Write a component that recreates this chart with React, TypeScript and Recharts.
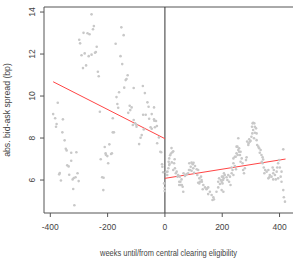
import {
  ScatterChart,
  Scatter,
  XAxis,
  YAxis,
  ReferenceLine,
} from 'recharts'

// weekly spreads before central clearing eligibility (weeks, bp)
const beforeClearing: [number, number][] = [
  [-390, 9.14], [-383, 8.94], [-380, 8.54], [-378, 8.67], [-374, 9.68], [-369, 6.27],
  [-367, 6.33], [-363, 5.98], [-358, 8.27], [-356, 8.89], [-350, 7.89], [-346, 7.49],
  [-343, 7.41], [-341, 6.7], [-336, 6.65], [-334, 6.25], [-327, 7.3], [-327, 6.92],
  [-322, 6.03], [-320, 5.57], [-318, 6.1], [-316, 4.8], [-312, 6.13], [-309, 7.32],
  [-305, 6.32], [-301, 5.95], [-299, 12.68], [-296, 12.51], [-291, 11.94], [-286, 11.33],
  [-284, 13.01], [-280, 12.03], [-275, 11.46], [-270, 12.99], [-266, 11.9], [-263, 12.94],
  [-256, 13.89], [-256, 11.97], [-251, 13.18], [-248, 13.33], [-244, 12.06], [-241, 12.1],
  [-238, 12.35], [-234, 11.16], [-231, 10.94], [-227, 9.25], [-224, 6.99], [-219, 6.13],
  [-215, 5.52], [-214, 6.11], [-210, 7.57], [-207, 7.27], [-206, 7.2], [-201, 7.14],
  [-198, 6.8], [-194, 7.7], [-188, 7.24], [-185, 7.27], [-182, 8.94], [-182, 8.27],
  [-178, 8.27], [-172, 12.49], [-169, 9.95], [-166, 9.62], [-163, 9.44], [-160, 10.18],
  [-155, 11.9], [-152, 13.27], [-149, 11.52], [-144, 12.9], [-142, 10.4], [-137, 10.76],
  [-134, 10.81], [-130, 10.99], [-128, 9.2], [-123, 9.54], [-121, 9.33], [-116, 9.46],
  [-112, 8.62], [-109, 10.38], [-109, 8.86], [-104, 8.7], [-100, 8.63], [-99, 8.54],
  [-90, 7.71], [-85, 8.01], [-81, 8.14], [-77, 10.48], [-76, 9.11], [-74, 8.41],
  [-70, 10.14], [-67, 9.11], [-61, 9.7], [-57, 9.49], [-55, 8.92], [-50, 8.51],
  [-46, 9.14], [-46, 8.44], [-38, 9.46], [-38, 8.89], [-37, 8.82], [-35, 8.51],
  [-31, 8.81], [-28, 8.57], [-27, 7.75], [-21, 8.03], [-16, 7.35], [-13, 7.32],
  [-10, 6.75], [-9, 6.63], [-6, 6.37], [-3, 5.84], [-1, 5.62], [-1, 5.48],
]

// weekly spreads after eligibility
const afterClearing: [number, number][] = [
  [5, 6.38], [8, 6.24], [9, 6.4], [12, 6.56], [13, 6.87], [15, 7.03], [15, 6.71],
  [16, 6.76], [18, 7.18], [21, 7.26], [23, 7.52], [24, 6.84], [26, 7.32], [29, 7.37],
  [29, 6.48], [32, 6.8], [34, 6.99], [35, 6.56], [38, 6.32], [41, 6.4], [44, 6.16],
  [46, 6.24], [50, 5.76], [50, 5.92], [52, 6.16], [54, 5.92], [55, 5.76], [58, 6.03],
  [59, 5.76], [62, 5.68], [64, 5.44], [65, 6.32], [70, 6.19], [72, 6.24], [76, 6.29],
  [81, 6.32], [84, 6.48], [85, 6.8], [87, 6.48], [90, 6.63], [93, 6.83], [93, 6.44],
  [97, 6.75], [99, 6.56], [100, 6.82], [102, 6.35], [105, 6.67], [111, 6.51], [113, 6.24],
  [116, 5.87], [116, 6.48], [120, 6.08], [120, 5.84], [122, 5.92], [126, 6.16], [128, 6.0],
  [129, 5.92], [132, 5.56], [134, 5.76], [140, 5.65], [145, 5.56], [147, 5.6], [151, 5.65],
  [151, 5.33], [157, 5.44], [163, 5.29], [166, 5.05], [169, 5.18], [171, 5.08], [180, 5.44],
  [186, 5.65], [186, 5.92], [189, 6.08], [192, 5.81], [195, 6.0], [198, 5.92], [198, 5.52],
  [199, 6.16], [201, 5.84], [203, 6.0], [203, 6.16], [205, 6.08], [204, 5.44], [206, 6.32],
  [209, 6.24], [215, 6.13], [218, 6.0], [221, 6.24], [224, 5.92], [227, 6.16], [229, 5.76],
  [233, 6.32], [233, 6.6], [236, 6.48], [239, 6.24], [239, 6.8], [239, 7.03], [244, 6.67],
  [244, 7.11], [247, 7.11], [248, 6.51], [250, 7.27], [250, 7.59], [253, 7.59], [254, 7.19],
  [256, 7.43], [256, 7.99], [259, 7.35], [259, 7.51], [262, 7.19], [264, 6.87], [264, 7.35],
  [268, 7.03], [271, 6.8], [273, 6.48], [276, 6.32], [279, 6.56], [283, 6.95], [285, 7.08],
  [287, 7.83], [291, 7.67], [292, 7.75], [294, 7.94], [297, 7.83], [299, 7.87], [302, 8.06],
  [304, 8.54], [305, 8.22], [306, 8.7], [308, 8.38], [308, 8.73], [311, 7.99], [312, 8.7],
  [314, 8.25], [314, 8.54], [318, 8.46], [320, 8.22], [320, 7.9], [322, 7.67], [326, 7.59],
  [329, 7.51], [331, 7.3], [334, 7.43], [337, 7.19], [338, 6.87], [341, 7.08], [341, 6.8],
  [343, 6.98], [345, 6.6], [347, 6.32], [350, 6.48], [355, 6.4], [361, 6.48], [361, 6.08],
  [364, 6.13], [366, 6.24], [372, 6.16], [376, 6.6], [378, 6.32], [378, 6.03], [380, 6.48],
  [384, 6.24], [387, 6.03], [390, 6.4], [392, 6.6], [395, 6.8], [395, 6.08], [399, 6.95],
  [401, 6.6], [404, 6.16], [407, 6.4], [407, 5.92], [413, 7.46], [413, 5.52], [415, 5.18],
  [419, 4.97],
]

// fitted lines (start, end)
const fitBefore: [number, number][] = [[-390, 10.68], [0, 7.97]]
const fitAfter: [number, number][] = [[0, 6.08], [421, 7.0]]

const xTicks = [-400, -200, 0, 200, 400]
const yTicks = [6, 8, 10, 12, 14]
const xDomain = [-422, 447]
const yDomain = [4.43, 14.24]

const font = '"Liberation Sans", Arial, sans-serif'
const axisColor = '#555'
const textColor = '#444'

const points = [...beforeClearing, ...afterClearing].map(([x, y]) => ({ x, y }))
const toSegment = (s: [number, number][]) => s.map(([x, y]) => ({ x, y }))

const Dot = (props: any) => (
  <circle cx={props.cx} cy={props.cy} r={1.3} fill="#c8c8c8" />
)

const XTick = ({ x, y, payload }: any) => (
  <text x={x} y={y + 11} textAnchor="middle" fontSize={8.5} fill={textColor} fontFamily={font}>
    {payload.value}
  </text>
)

const YTick = ({ x, y, payload }: any) => (
  <text
    x={x - 3}
    y={y}
    transform={`rotate(-90 ${x - 3} ${y})`}
    textAnchor="middle"
    fontSize={8.5}
    fill={textColor}
    fontFamily={font}
  >
    {payload.value}
  </text>
)

const XLabel = ({ viewBox }: any) => (
  <text
    x={viewBox.x + viewBox.width / 2}
    y={viewBox.y + 43}
    textAnchor="middle"
    fontSize={8.7}
    fill={textColor}
    fontFamily={font}
    textLength={137}
    lengthAdjust="spacingAndGlyphs"
  >
    weeks until/from central clearing eligibility
  </text>
)

const YLabel = ({ viewBox }: any) => {
  const cx = viewBox.x + 10
  const cy = viewBox.y + viewBox.height / 2
  return (
    <text
      x={cx}
      y={cy}
      transform={`rotate(-90 ${cx} ${cy})`}
      textAnchor="middle"
      fontSize={8.7}
      fill={textColor}
      fontFamily={font}
    >
      abs. bid-ask spread (bp)
    </text>
  )
}

export default function App() {
  return (
    <div style={{ position: 'absolute', left: 0, top: 0, background: '#fff' }}>
      <ScatterChart width={293} height={262} margin={{ top: 7, right: 0, left: 0, bottom: 0 }}>
        <XAxis
          type="number"
          dataKey="x"
          domain={xDomain}
          ticks={xTicks}
          allowDataOverflow
          height={49}
          tickSize={4}
          stroke={axisColor}
          tick={<XTick />}
          label={<XLabel />}
        />
        <YAxis
          type="number"
          dataKey="y"
          domain={yDomain}
          ticks={yTicks}
          allowDataOverflow
          width={44}
          tickSize={4}
          stroke={axisColor}
          tick={<YTick />}
          label={<YLabel />}
        />
        <ReferenceLine y={yDomain[1]} stroke={axisColor} />
        <ReferenceLine x={0} stroke="#333" />
        <Scatter data={points} shape={<Dot />} isAnimationActive={false} />
        <ReferenceLine segment={toSegment(fitBefore)} stroke="#ff4545" strokeWidth={1} />
        <ReferenceLine segment={toSegment(fitAfter)} stroke="#ff4545" strokeWidth={1} />
      </ScatterChart>
    </div>
  )
}
